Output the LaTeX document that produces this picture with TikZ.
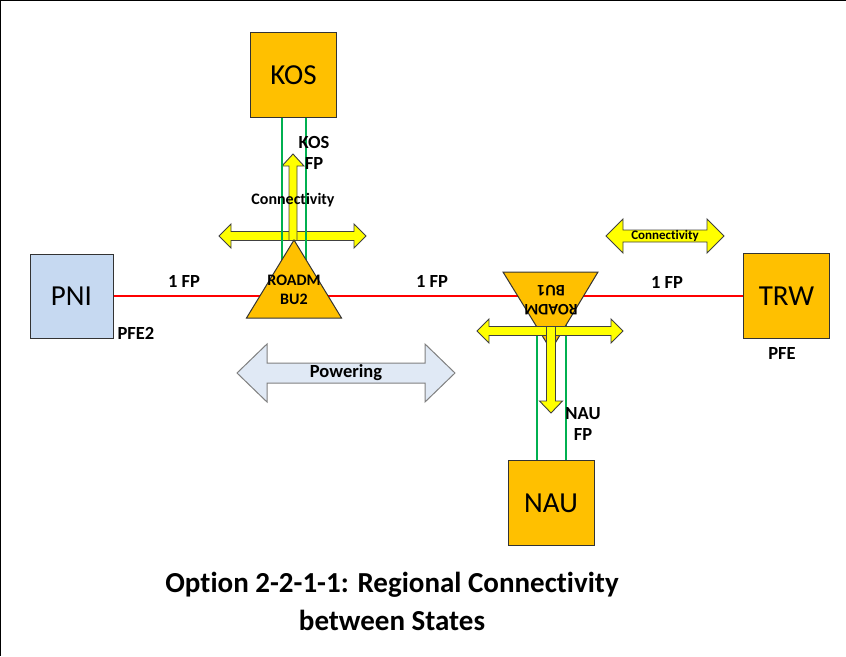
\documentclass[tikz,border=0pt]{standalone}
\usepackage{fontspec}
\setmainfont[Ligatures=NoCommon]{Carlito}
\usepackage{tikz}
\usetikzlibrary{calc}
\definecolor{SiteOrange}{RGB}{255, 192, 0}
\definecolor{PniBlue}{RGB}{198, 217, 241}
\definecolor{PowerBlue}{RGB}{224, 233, 245}
\definecolor{FibreGreen}{RGB}{0, 176, 80}
\definecolor{LinkRed}{RGB}{255, 0, 0}
\definecolor{ArrowYellow}{RGB}{255, 255, 0}
% horizontal double arrow: style, left, right, y, shaft half, head half, head length
\newcommand{\hdarrow}[7]{%
	\draw[#1] (#2,#4) -- (#2+#7,#4-#6) -- (#2+#7,#4-#5) -- (#3-#7,#4-#5) -- (#3-#7,#4-#6) -- (#3,#4)
		-- (#3-#7,#4+#6) -- (#3-#7,#4+#5) -- (#2+#7,#4+#5) -- (#2+#7,#4+#6) -- cycle;
}
% vertical single arrow: style, x, base, head start, tip, shaft half, head half
\newcommand{\vsarrow}[7]{%
	\draw[#1] (#2-#6,#3) -- (#2-#6,#4) -- (#2-#7,#4) -- (#2,#5) -- (#2+#7,#4) -- (#2+#6,#4) -- (#2+#6,#3) -- cycle;
}
\tikzset{
	site/.style={draw=black!80, line width=1pt, fill=SiteOrange, minimum width=86pt, minimum height=85pt,
		inner sep=0pt, font=\fontsize{29}{34}\selectfont},
	lbl/.style={font=\fontsize{18.5}{21}\selectfont\bfseries, inner sep=0pt, align=center},
	fibre/.style={FibreGreen, line width=2pt},
	link/.style={LinkRed, line width=2.2pt},
	roadm/.style={draw=black!80, line width=1pt, fill=SiteOrange},
	conn/.style={draw=black!75, line width=0.9pt, fill=ArrowYellow},
	power/.style={draw=black!50, line width=1pt, fill=PowerBlue},
}
\begin{document}
\begin{tikzpicture}[x=1pt, y=-1pt]
	\useasboundingbox (0,0) rectangle (846,656);
	\draw[line width=2.4pt] (0,656) -- (0,0) -- (846,0);

	% sites
	\node[site, fill=PniBlue, minimum width=83pt, minimum height=84pt] (pni) at (71.5,296) {PNI};
	\node[site] (kos) at (293.5,75) {KOS};
	\node[site] (trw) at (786.5,296) {TRW};
	\node[site] (nau) at (551,503) {NAU};
	\coordinate (bu2c) at (294,290);
	\coordinate (bu1c) at (551,300);

	\draw[link] (pni) -- (trw);

	% ROADM BU1
	\draw[fibre] ([xshift=-14.5pt]nau.north) -- ([xshift=-14.5pt]nau.north |- bu1c);
	\draw[fibre] ([xshift=14.5pt]nau.north) -- ([xshift=14.5pt]nau.north |- bu1c);
	\draw[roadm] (503,272) -- (598,272) -- (551,350) -- cycle;
	\node[lbl, rotate=180, font=\fontsize{16}{19}\selectfont\bfseries] (bu1) at (bu1c) {ROADM\\BU1};
	\hdarrow{conn}{477}{623}{331}{4.5}{12}{12}
	\vsarrow{conn}{551}{326.5}{401}{413}{4.5}{11.5}

	% ROADM BU2
	\hdarrow{conn}{219}{366}{236}{4.5}{12}{12}
	\vsarrow{conn}{293}{240.5}{166}{154}{4}{11}
	\draw[fibre] ([xshift=-11.5pt]kos.south) -- ([xshift=-11.5pt]kos.south |- bu2c);
	\draw[fibre] ([xshift=12.5pt]kos.south) -- ([xshift=12.5pt]kos.south |- bu2c);
	\draw[roadm] (294,240) -- (341.5,318) -- (246.5,318) -- cycle;
	\node[lbl, font=\fontsize{16}{19}\selectfont\bfseries] (bu2) at (bu2c) {ROADM\\BU2};

	% labels
	\node[lbl] (fpa) at (184,281) {1 FP};
	\node[lbl] (fpb) at (432,281) {1 FP};
	\node[lbl] (fpc) at (667,282) {1 FP};
	\node[lbl] (pfe2) at (136,333) {PFE2};
	\node[lbl] (pfe) at (782,353) {PFE};
	\node[lbl] (kosfp) at (314,153) {KOS\\FP};
	\node[lbl] (naufp) at (583,424) {NAU\\FP};
	\node[lbl, font=\fontsize{16}{19}\selectfont\bfseries] (conna) at (293,200) {Connectivity};

	% Connectivity and Powering arrows
	\hdarrow{conn}{606}{724}{236}{6}{17}{17}
	\node[lbl, font=\fontsize{13}{15}\selectfont\bfseries] (connb) at (665,236) {Connectivity};
	\hdarrow{power}{237}{455}{373}{10}{29}{30}
	\node[lbl] (powering) at (346,373) {Powering};

	% title
	\node[lbl, font=\fontsize{29}{38}\selectfont\bfseries] (title) at (392,601) {Option 2-2-1-1: Regional Connectivity\\between States};
\end{tikzpicture}
\end{document}
